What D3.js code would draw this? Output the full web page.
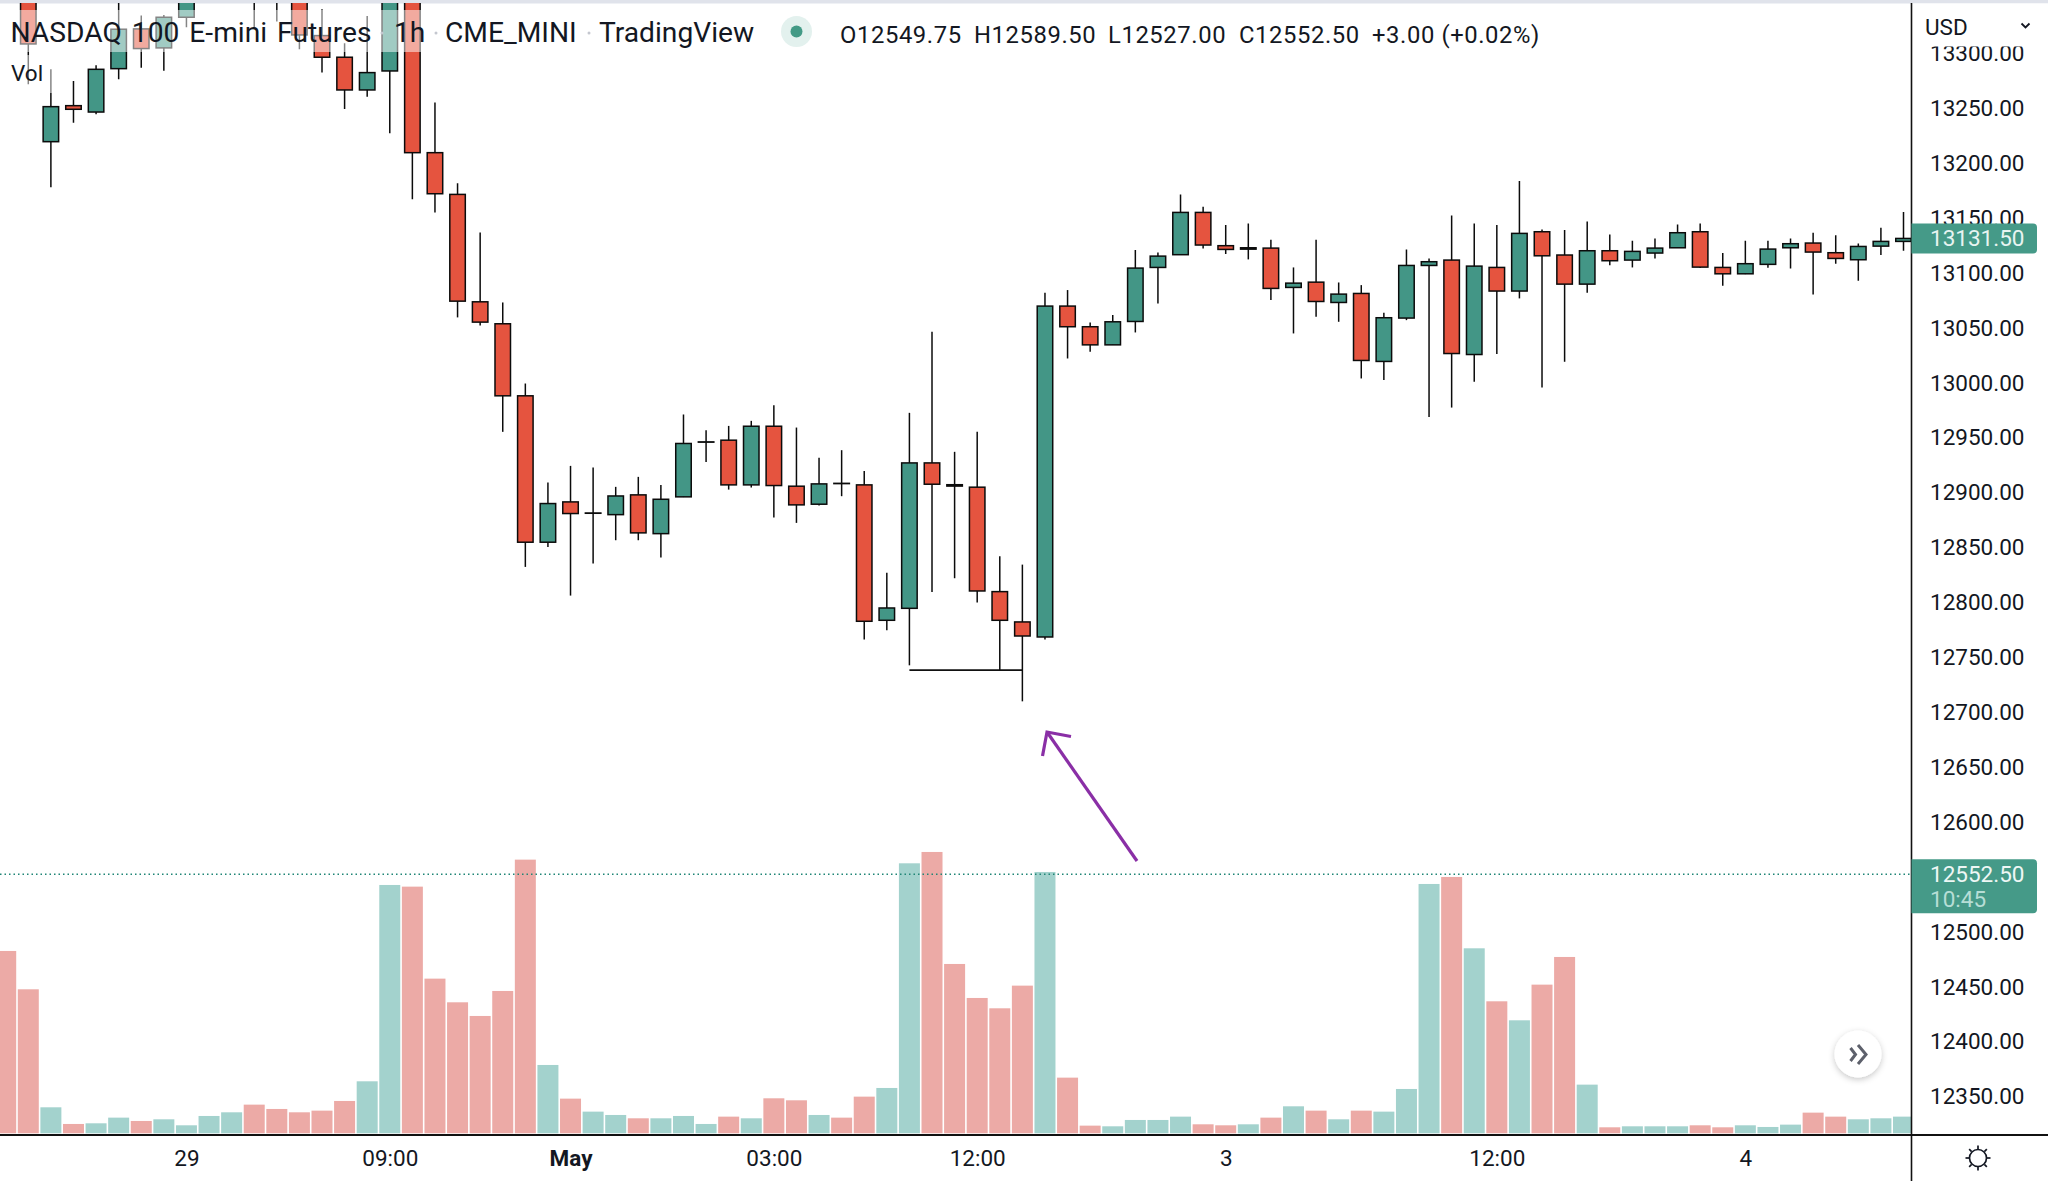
<!DOCTYPE html>
<html>
<head>
<meta charset="utf-8">
<script src="https://cdn.jsdelivr.net/npm/d3@7"></script>
<style>
  html, body { margin: 0; padding: 0; background: #fff; overflow: hidden; }
  text { font-family: Roboto, sans-serif; fill: #131722; }
</style>
</head>
<body>
<svg id="chart"></svg>
<script>
// 1h candles. First few and some of the Apr 28 ones sit above the visible range
const opens = [13400,13385,13219.6,13252.4,13246.6,13286.1,13322.3,13305,13332.9,13362,13372,13395,13378,13362,13316.2,13296.5,13266.7,13284,13362,13209.6,13171.6,13073.8,13053.8,12988.2,12854.9,12891.6,12881.25,12880,12898,12862.7,12896.2,12946,12947.8,12907.1,12960.5,12905.9,12889.5,12908.5,12907.1,12783.8,12794.7,12927.1,12907.25,12905,12809.9,12782.3,12768.6,13069.9,13051.1,13034.6,13055.9,13105.1,13116.7,13155.2,13124.9,13121.75,13122.7,13086.9,13091.7,13073.2,13081.4,13019.5,13059,13106.9,13111.8,13025.8,13105.1,13083.6,13137.6,13116.4,13089.9,13120.3,13111.8,13118.2,13123,13137.6,13105.1,13099.3,13107.9,13123,13127.3,13118.5,13112.1,13124.5,13128.8];
const highs = [13420,13410,13285.5,13274.9,13289.2,13358,13334.4,13335,13375,13385,13400,13410,13390,13372,13340.2,13309.2,13334.1,13375,13375,13255.2,13181.7,13137,13073.2,12999.4,12909.2,12924.4,12922.9,12905.3,12914.4,12907.1,12971.2,12956.9,12960.8,12965.4,12979.7,12959.3,12931.7,12938.7,12919.8,12827.2,12972.7,13046.5,12937.2,12955.4,12842.1,12834.5,13082,13084.5,13055,13061.7,13120.9,13118.8,13171.6,13160.4,13143.7,13145.2,13130.3,13105.1,13130.3,13091.4,13089,13063.8,13121.5,13113.3,13152.5,13145.2,13143.7,13183.8,13139.7,13139.1,13147,13135.2,13129.4,13131.5,13144.3,13145.2,13118.2,13129.4,13129.4,13131.5,13136.7,13134.3,13127,13141.3,13155.5];
const lows = [13365,13271.9,13178,13236.9,13244.5,13276.4,13287,13284.3,13323.8,13350,13352,13323.8,13329,13303.7,13282.5,13249.4,13260.6,13227.2,13167.1,13155.2,13059.6,13052.3,12955.4,12832.4,12850.6,12806.3,12835.4,12856.7,12856.7,12840.9,12896,12928,12902.8,12904.7,12877.3,12872.5,12888.3,12896.8,12766.2,12774.7,12742.8,12809.6,12822.1,12799.9,12738.2,12710,12766.2,13022.2,13028.3,13034.5,13045.9,13072.3,13116.5,13122.4,13117.3,13112.4,13075.4,13045,13060.2,13055.6,13004,13002.5,13057.1,12969,12977.5,13000.9,13026.2,13076.9,12995.8,13019.2,13082,13107.2,13105.1,13113.3,13123,13104.5,13088.4,13099,13104.8,13104.2,13080.5,13108.5,13093,13116.4,13120.3];
const closes = [13385,13308.6,13251.5,13249.1,13285.5,13322,13304.4,13332.9,13362,13372,13390,13375,13360,13316.8,13296.5,13266.7,13282.5,13362,13209.6,13172.2,13074.4,13055.3,12988.2,12854.9,12890.1,12881,12881.5,12897,12863.4,12894,12944.8,12946.25,12907.1,12960.5,12906.5,12888.9,12908,12908.25,12782.9,12795,12927.1,12907.7,12906,12810.5,12783.8,12769.5,13069.9,13051.1,13034.6,13055.6,13104.5,13115.4,13155.2,13125.5,13121.5,13123,13086,13090.8,13074.1,13080.8,13020.4,13059.3,13106.9,13110.3,13026.7,13106.3,13083.6,13136.1,13115.7,13089.9,13120.3,13111.2,13119.7,13122.7,13136.7,13105.4,13099.3,13108.5,13121.8,13126.7,13119.1,13113.3,13124.2,13128.8,13131.5];
// no scale on the volume pane, so these are relative heights
const volumes = [547,432,78,28,30,47,37,42,24,52,63,86,73,63,68,97,156,745,740,464,393,352,427,821,205,104,65,55,45,45,52,28,50,45,105,99,55,47,110,136,810,844,508,406,375,443,784,167,23,21,40,40,50,27,24,27,47,81,68,42,68,65,133,748,769,555,396,339,446,529,146,18,21,21,21,24,18,24,19,26,62,50,42,45,50];

const priceTicks = [12350,12400,12450,12500,12550,12600,12650,12700,12750,12800,12850,12900,12950,13000,13050,13100,13150,13200,13250,13300];
const timeTickBars = [8,17,25,34,43,54,66,77];
const timeTickLabels = ["29","09:00","May","03:00","12:00","3","12:00","4"];

const lastPrice = 12552.5;
const prevClosePrice = 13131.5;
const bounceLevel = 12738.5; // the horizontal line drawn under the two wicks
const bounceFrom = 40;
const bounceTo = 45;

const legendParts = ["O12549.75", "H12589.50", "L12527.00", "C12552.50", "+3.00 (+0.02%)"];
const legendX = [840, 974, 1108, 1239, 1372];

const width = 2048;
const height = 1181;
const axisX = 1911.5;
const axisY = 1135;
const green = "#439686";
const red = "#e5543f";
const greenVol = "#a3d2cd";
const redVol = "#ecaaa6";

const svg = d3.select("#chart").attr("width", width).attr("height", height);

const x = d3.scaleLinear().domain([0, 84]).range([5.7, 1903.5]);
const y = d3.scaleLinear().domain([13250, 12350]).range([108.3, 1096.7]);
const yVol = d3.scaleLinear().domain([0, 900]).range([1133.3, 833.3]);

const defs = svg.append("defs");
defs.append("clipPath").attr("id", "pane")
  .append("rect").attr("x", 0).attr("y", 3).attr("width", axisX).attr("height", axisY - 3);
const shadow = defs.append("filter").attr("id", "btnShadow")
  .attr("x", "-40%").attr("y", "-40%").attr("width", "180%").attr("height", "180%");
shadow.append("feDropShadow").attr("dx", 0).attr("dy", 2).attr("stdDeviation", 3)
  .attr("flood-color", "#000").attr("flood-opacity", 0.22);

// top strip
svg.append("rect").attr("width", width).attr("height", 3.5).attr("fill", "#e0e3eb");

const pane = svg.append("g").attr("clip-path", "url(#pane)");
const bars = d3.range(opens.length);

// volume
pane.selectAll(".vol").data(bars).enter().append("rect")
  .attr("class", "vol")
  .attr("x", (i) => x(i) - 10.5)
  .attr("width", 21)
  .attr("y", (i) => yVol(volumes[i]))
  .attr("height", (i) => yVol(0) - yVol(volumes[i]))
  .attr("fill", (i) => (closes[i] >= opens[i] ? greenVol : redVol));

// wicks then bodies
pane.selectAll(".wick").data(bars).enter().append("line")
  .attr("class", "wick")
  .attr("x1", (i) => x(i)).attr("x2", (i) => x(i))
  .attr("y1", (i) => y(highs[i])).attr("y2", (i) => y(lows[i]))
  .attr("stroke", "#0b0b0b").attr("stroke-width", 1.5);

pane.selectAll(".body").data(bars).enter().append("rect")
  .attr("class", "body")
  .attr("x", (i) => x(i) - 7.75)
  .attr("width", 15.5)
  .attr("y", (i) => y(Math.max(opens[i], closes[i])))
  .attr("height", (i) => Math.abs(y(opens[i]) - y(closes[i])))
  .attr("fill", (i) => (closes[i] >= opens[i] ? green : red))
  .attr("stroke", "#0b0b0b").attr("stroke-width", 1.5);

// last price line
pane.append("line")
  .attr("x1", 0).attr("x2", axisX)
  .attr("y1", y(lastPrice)).attr("y2", y(lastPrice))
  .attr("stroke", "#1f8576").attr("stroke-width", 1.5).attr("stroke-dasharray", "1.5 3");

// hand drawn annotations
pane.append("line")
  .attr("x1", x(bounceFrom)).attr("x2", x(bounceTo))
  .attr("y1", y(bounceLevel)).attr("y2", y(bounceLevel))
  .attr("stroke", "#111").attr("stroke-width", 1.8);

const arrow = svg.append("g").attr("fill", "none").attr("stroke", "#8a2fa6").attr("stroke-width", 3.2);
arrow.append("path").attr("d", "M1137,861L1047,732");
arrow.append("path").attr("d", "M1042.5,756L1047,732L1071,736.5");

// see-through backing behind the legend rows
svg.append("rect").attr("x", 0).attr("y", 10).attr("width", 770).attr("height", 42)
  .attr("fill", "#fff").attr("fill-opacity", 0.5);
svg.append("rect").attr("x", 0).attr("y", 55).attr("width", 55).attr("height", 38)
  .attr("fill", "#fff").attr("fill-opacity", 0.5);

// legend
const titleSize = "28.2px";
svg.append("text").attr("x", 10.5).attr("y", 41.5)
  .style("font-size", titleSize).style("word-spacing", "3px")
  .text("NASDAQ 100 E-mini Futures");
svg.append("text").attr("x", 394).attr("y", 41.5).style("font-size", titleSize).text("1h");
svg.append("text").attr("x", 445).attr("y", 41.5).style("font-size", titleSize).text("CME_MINI");
svg.append("text").attr("x", 599).attr("y", 41.5).style("font-size", titleSize).text("TradingView");
svg.selectAll(".sep").data([382, 436, 589]).enter().append("circle")
  .attr("class", "sep").attr("cx", (d) => d).attr("cy", 33).attr("r", 1.5).attr("fill", "#c4c7cf");

svg.append("circle").attr("cx", 796.5).attr("cy", 31.5).attr("r", 15.5).attr("fill", "#e3f1ee");
svg.append("circle").attr("cx", 796.5).attr("cy", 31.5).attr("r", 6).attr("fill", "#439a86");

svg.selectAll(".ohlc").data(legendParts).enter().append("text")
  .attr("class", "ohlc")
  .attr("x", (d, i) => legendX[i])
  .attr("y", 43)
  .style("font-size", "23.8px")
  .style("letter-spacing", "0.6px")
  .text((d) => d);

svg.append("text").attr("x", 11).attr("y", 81).style("font-size", "22.5px").text("Vol");

// price axis
const priceAxis = d3.axisRight(y).tickValues(priceTicks).tickFormat(d3.format(".2f")).tickSize(0).tickPadding(18.5);
const priceG = svg.append("g").attr("transform", `translate(${axisX},0)`).call(priceAxis);
priceG.select(".domain").remove();
priceG.selectAll("text").style("font-size", "22.5px").style("font-family", "Roboto, sans-serif").attr("fill", "#131722");

// currency box covers the top of the axis
svg.append("rect").attr("x", axisX).attr("y", 3.5).attr("width", width - axisX).attr("height", 43).attr("fill", "#fff");
svg.append("text").attr("x", 1925).attr("y", 35).style("font-size", "22.5px").text("USD");
svg.append("path").attr("d", "M2021.5,23.5L2025.5,27.5L2029.5,23.5")
  .attr("fill", "none").attr("stroke", "#131722").attr("stroke-width", 1.8);

// time axis
const timeAxis = d3.axisBottom(x).tickValues(timeTickBars)
  .tickFormat((d) => timeTickLabels[timeTickBars.indexOf(d)]).tickSize(0).tickPadding(15);
const timeG = svg.append("g").attr("transform", `translate(0,${axisY})`).call(timeAxis);
timeG.select(".domain").remove();
timeG.selectAll("text")
  .style("font-size", "22.5px").style("font-family", "Roboto, sans-serif").attr("fill", "#131722")
  .style("font-weight", (d) => (d === 25 ? "700" : "400"));

// pane borders
svg.append("line").attr("x1", 0).attr("x2", width).attr("y1", axisY).attr("y2", axisY)
  .attr("stroke", "#111").attr("stroke-width", 2);
svg.append("line").attr("x1", axisX).attr("x2", axisX).attr("y1", 3).attr("y2", height)
  .attr("stroke", "#111").attr("stroke-width", 1.6);

// price tags
function priceTag(top, h) {
  svg.append("path")
    .attr("d", `M${axisX},${top}H2033a4,4 0 0 1 4,4V${top + h - 4}a4,4 0 0 1 -4,4H${axisX}Z`)
    .attr("fill", "#459a88");
}
priceTag(y(prevClosePrice) - 15, 30);
svg.append("text").attr("x", 1930).attr("y", y(prevClosePrice) + 8)
  .style("font-size", "22.5px").style("fill", "#e8f4f1").text(d3.format(".2f")(prevClosePrice));

priceTag(y(lastPrice) - 15, 54);
svg.append("text").attr("x", 1930).attr("y", y(lastPrice) + 8)
  .style("font-size", "22.5px").style("fill", "#eef7f5").text(d3.format(".2f")(lastPrice));
svg.append("text").attr("x", 1930).attr("y", y(lastPrice) + 33)
  .style("font-size", "22.5px").style("fill", "#b7ded6").text("10:45");

// scroll to latest button
svg.append("circle").attr("cx", 1858).attr("cy", 1054).attr("r", 23.5)
  .attr("fill", "#fff").attr("filter", "url(#btnShadow)");
svg.append("path").attr("d", "M1850.5,1048L1855.5,1054.5L1850.5,1061M1858,1045L1866,1054.5L1858,1064")
  .attr("fill", "none").attr("stroke", "#5d606b").attr("stroke-width", 3);

// settings icon
const gear = svg.append("g").attr("transform", "translate(1978,1158)")
  .attr("fill", "none").attr("stroke", "#131722").attr("stroke-width", 1.7);
gear.append("circle").attr("r", 8.5);
gear.selectAll("line").data(d3.range(8)).enter().append("line")
  .attr("x1", 0).attr("x2", 0).attr("y1", -9).attr("y2", -12.5)
  .attr("transform", (d) => `rotate(${d * 45})`);
</script>
</body>
</html>
